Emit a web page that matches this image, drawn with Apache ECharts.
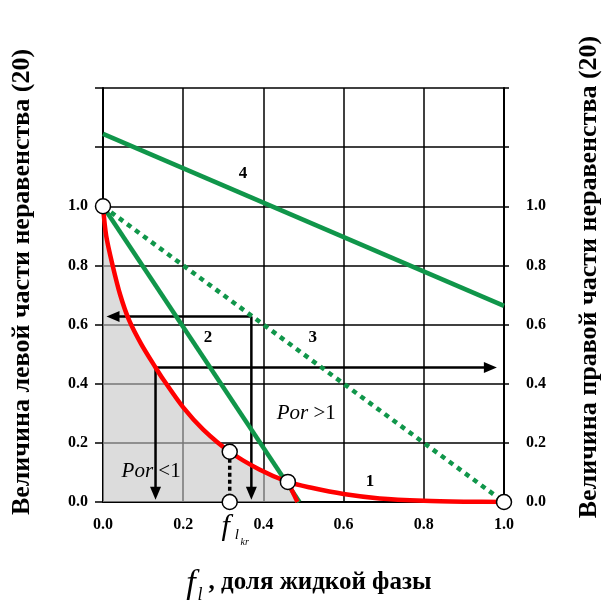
<!DOCTYPE html>
<html><head><meta charset="utf-8">
<script src="https://cdn.jsdelivr.net/npm/echarts@6/dist/echarts.min.js"></script>
<style>html,body{margin:0;padding:0;background:#fff}#c{width:605px;height:604px}</style>
</head><body><div id="c"></div>
<script>
// ---- data ----
const yLabelMax = 1.0;               // tick labels shown up to this value
const curve1X = [0, 0.008, 0.024, 0.043, 0.065, 0.095, 0.131, 0.15, 0.2, 0.25, 0.316, 0.39, 0.461, 0.52, 0.6, 0.69, 0.8, 0.9, 1.0];
const curve1Y = [1.0, 0.9, 0.8, 0.7, 0.615, 0.535, 0.455, 0.415, 0.32, 0.245, 0.17, 0.11, 0.068, 0.048, 0.027, 0.012, 0.004, 0.001, 0.0];
const line2 = [[0, 1.0], [0.49, 0.0]];
const line3 = [[0, 1.0], [1.0, 0.0]];
const line4 = [[0, 1.245], [1.0, 0.663]];
const meetX = 0.461;                 // curve 1 meets line 2
const shadeFoot = [0.485, 0.0];      // shaded region closes along line 2
const circles = [[0, 1.0], [0.316, 0.17], [0.316, 0.0], [0.461, 0.068], [1.0, 0.0]];
const fCritical = [0.316, 0.17];
const arrowA = { corner: [0.37, 0.627], tipH: [0.025, 0.627], tipV: [0.37, 0.03] };
const arrowB = { corner: [0.131, 0.455], tipH: [0.966, 0.455], tipV: [0.131, 0.03] };
const curveNames = [
  { text: '{b|4}', at: [0.349, 1.112] },
  { text: '{b|2}', at: [0.262, 0.557] },
  { text: '{b|3}', at: [0.523, 0.557] },
  { text: '{b|1}', at: [0.666, 0.07] },
  { text: '{i|Por }{r|>1}', at: [0.507, 0.30] },
  { text: '{i|Por }{r|<1}', at: [0.12, 0.104] }
];
const leftTitle = 'Величина левой части неравенства (20)';
const rightTitle = 'Величина правой части неравенства (20)';
const xTitle = ', доля жидкой фазы';

// ---- chart ----
const GREEN = '#10964a', RED = '#ff0000', SERIF = '"Liberation Serif", "Times New Roman", serif';
const curve1 = curve1X.map((x, i) => [x, curve1Y[i]]);
const shade = curve1.filter(p => p[0] <= meetX).concat([shadeFoot]);
const chart = echarts.init(document.getElementById('c'), null, { renderer: 'canvas' });

function arrow(from, to, rot) {
  return {
    type: 'line', silent: true, z: 3, animation: false,
    data: [{ value: from, symbol: 'none' },
           { value: to, symbol: 'triangle', symbolSize: [11, 13], symbolRotate: rot }],
    showSymbol: true, showAllSymbol: true,
    itemStyle: { color: '#000', opacity: 1 },
    lineStyle: { color: '#000', width: 2.5 }
  };
}
const yAxisBase = {
  type: 'value', min: 0, max: 1.4, interval: 0.2,
  axisLine: { show: true, lineStyle: { color: '#000', width: 2 } },
  axisLabel: { formatter: v => (v > yLabelMax + 1e-6 ? '' : v.toFixed(1)), fontFamily: SERIF, fontWeight: 'bold', fontSize: 16, color: '#000' }
};
const richStyles = {
  b: { fontFamily: SERIF, fontWeight: 'bold', fontSize: 17, color: '#000', opacity: 1 },
  i: { fontFamily: SERIF, fontStyle: 'italic', fontSize: 21, color: '#000', opacity: 1 },
  r: { fontFamily: SERIF, fontSize: 21, color: '#000', opacity: 1 }
};
chart.setOption({
  animation: false,
  backgroundColor: '#fff',
  grid: { left: 103, right: 101, top: 88, bottom: 102 },
  xAxis: {
    type: 'value', min: 0, max: 1, interval: 0.2,
    axisLine: { show: true, lineStyle: { color: '#000', width: 2 } },
    axisTick: { show: false },
    axisLabel: { formatter: v => v.toFixed(1), fontFamily: SERIF, fontWeight: 'bold', fontSize: 16, color: '#000', margin: 15 },
    splitLine: { show: true, lineStyle: { color: '#000', width: 1.5 } }
  },
  yAxis: [
    Object.assign({}, yAxisBase, {
      position: 'left',
      axisTick: { show: true, length: 8, lineStyle: { color: '#000', width: 1.5 } },
      axisLabel: Object.assign({}, yAxisBase.axisLabel, { margin: 15 }),
      splitLine: { show: true, lineStyle: { color: '#000', width: 1.5 } }
    }),
    Object.assign({}, yAxisBase, {
      position: 'right',
      axisTick: { show: true, length: 5, lineStyle: { color: '#000', width: 1.5 } },
      axisLabel: Object.assign({}, yAxisBase.axisLabel, { margin: 22 }),
      splitLine: { show: false }
    })
  ],
  series: [
    { type: 'line', data: shade, showSymbol: false, smooth: 0.3, lineStyle: { width: 0 }, z: 1,
      areaStyle: { color: '#c4c4c4', opacity: 0.6 } },
    arrow(arrowA.corner, arrowA.tipH, 90),
    arrow(arrowA.corner, arrowA.tipV, 180),
    arrow(arrowB.corner, arrowB.tipH, -90),
    arrow(arrowB.corner, arrowB.tipV, 180),
    { type: 'line', data: [fCritical, [fCritical[0], 0]], showSymbol: false, z: 4,
      lineStyle: { color: '#000', width: 3.5, type: [4, 3] } },
    { type: 'line', data: line3, showSymbol: false, z: 5,
      lineStyle: { color: GREEN, width: 4.5, type: [5, 5], cap: 'butt' } },
    { type: 'line', data: line4, showSymbol: false, z: 5, lineStyle: { color: GREEN, width: 4.5 } },
    { type: 'line', data: line2, showSymbol: false, z: 5, lineStyle: { color: GREEN, width: 4.5 } },
    { type: 'line', data: curve1, showSymbol: false, smooth: 0.3, z: 6, lineStyle: { color: RED, width: 4.5 } },
    { type: 'line', data: [[meetX, curve1Y[curve1X.indexOf(meetX)]], shadeFoot], showSymbol: false, z: 6,
      lineStyle: { color: RED, width: 4.5 } },
    { type: 'scatter', data: circles, symbol: 'circle', symbolSize: 15, z: 8,
      itemStyle: { color: '#fff', borderColor: '#000', borderWidth: 1.5, opacity: 1 } },
    { type: 'scatter', symbolSize: 1, z: 9, silent: true,
      itemStyle: { opacity: 0 },
      data: curveNames.map(c => ({ value: c.at, text: c.text })),
      label: {
        show: true, position: 'inside', color: '#000', opacity: 1,
        textBorderWidth: 0,
        formatter: p => p.data.text,
        rich: richStyles
      } }
  ]
});

const pc = chart.convertToPixel({ gridIndex: 0 }, [fCritical[0], 0]);
const txt = (x, y, text, font, extra) => Object.assign({
  type: 'text', x: x, y: y, silent: true,
  style: { text: text, font: font, fill: '#000', align: 'center', verticalAlign: 'middle', textAlign: 'center', textVerticalAlign: 'middle' }
}, extra || {});
chart.setOption({
  graphic: [
    txt(22, 282, leftTitle, 'bold 26px ' + SERIF, { rotation: Math.PI / 2 }),
    txt(589, 277, rightTitle, 'bold 26px ' + SERIF, { rotation: Math.PI / 2 }),
    txt(191, 584, 'f', 'italic 34px ' + SERIF),
    txt(200, 595, 'l', 'italic 18px ' + SERIF),
    txt(320, 583, xTitle, 'bold 25px ' + SERIF),
    txt(pc[0] - 4, pc[1] + 25, 'f', 'italic 30px ' + SERIF),
    txt(pc[0] + 7, pc[1] + 33, 'l', 'italic 15px ' + SERIF),
    txt(pc[0] + 15, pc[1] + 40, 'kr', 'italic 10px ' + SERIF)
  ]
});
</script></body></html>
